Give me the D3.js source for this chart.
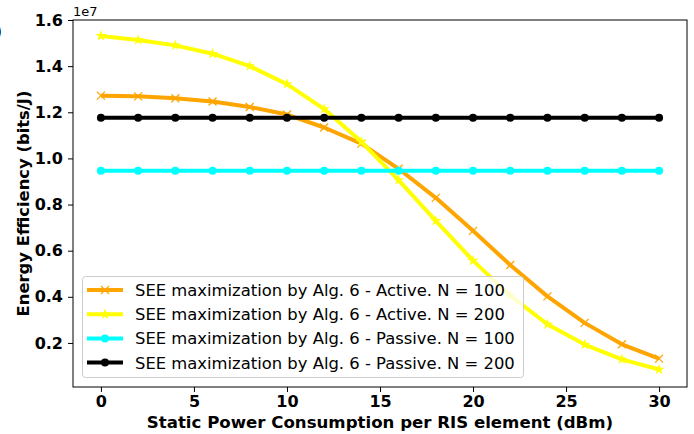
<!DOCTYPE html>
<html>
<head>
<meta charset="utf-8">
<script src="https://cdn.jsdelivr.net/npm/d3@7"></script>
<style>
  body { margin: 0; background: #fff; }
  svg { display: block; font-family: "DejaVu Sans", sans-serif; }
</style>
</head>
<body>
<div id="chart"></div>
<script>
// static power per RIS element (dBm)
var powerDbm = [0, 2, 4, 6, 8, 10, 12, 14, 16, 18, 20, 22, 24, 26, 28, 30];

// energy efficiency, in units of 1e7 bits/J
var activeN100 = [1.272, 1.269, 1.261, 1.247, 1.223, 1.190, 1.134, 1.064, 0.955, 0.829, 0.686, 0.538, 0.402, 0.287, 0.194, 0.132];
var activeN200 = [1.531, 1.513, 1.490, 1.454, 1.400, 1.322, 1.214, 1.072, 0.906, 0.729, 0.557, 0.405, 0.281, 0.193, 0.129, 0.085];
var passiveN100 = [0.947, 0.947, 0.947, 0.947, 0.947, 0.947, 0.947, 0.947, 0.947, 0.947, 0.947, 0.947, 0.947, 0.947, 0.947, 0.947];
var passiveN200 = [1.176, 1.176, 1.176, 1.176, 1.176, 1.176, 1.176, 1.176, 1.176, 1.176, 1.176, 1.176, 1.176, 1.176, 1.176, 1.176];

var seriesNames = [
  "SEE maximization by Alg. 6 - Active. N = 100",
  "SEE maximization by Alg. 6 - Active. N = 200",
  "SEE maximization by Alg. 6 - Passive. N = 100",
  "SEE maximization by Alg. 6 - Passive. N = 200"
];
var seriesColors = ["#ffa500", "#ffff00", "#00ffff", "#000000"];
var seriesMarkers = ["x", "star", "circle", "circle"];

var xTicks = [0, 5, 10, 15, 20, 25, 30];
var yTicks = [0.2, 0.4, 0.6, 0.8, 1.0, 1.2, 1.4, 1.6];

var width = 694, height = 434;
var margin = {left: 73, right: 7, top: 20, bottom: 47};

var svg = d3.select("#chart").append("svg")
  .attr("width", width)
  .attr("height", height);

var x = d3.scaleLinear().domain([-1.5, 31.5]).range([margin.left, width - margin.right]);
var y = d3.scaleLinear().domain([0.009, 1.6]).range([height - margin.bottom, margin.top]);

// axes
var xAxis = svg.append("g")
  .attr("transform", "translate(0," + (height - margin.bottom) + ")")
  .call(d3.axisBottom(x).tickValues(xTicks).tickFormat(d3.format("d")).tickSizeOuter(0).tickSize(5).tickPadding(4));
var yAxis = svg.append("g")
  .attr("transform", "translate(" + margin.left + ",0)")
  .call(d3.axisLeft(y).tickValues(yTicks).tickFormat(d3.format(".1f")).tickSizeOuter(0).tickSize(5).tickPadding(5));

[xAxis, yAxis].forEach(function (a) {
  a.select(".domain").remove();
  a.selectAll("line").attr("stroke", "#000").attr("stroke-width", 1);
  a.selectAll("text")
    .attr("fill", "#000")
    .style("font-family", "DejaVu Sans")
    .style("font-size", "16px")
    .style("font-weight", "bold");
});

// frame
svg.append("rect")
  .attr("x", margin.left)
  .attr("y", margin.top)
  .attr("width", width - margin.left - margin.right)
  .attr("height", height - margin.top - margin.bottom)
  .attr("fill", "none")
  .attr("stroke", "#000")
  .attr("stroke-width", 1);

var allSeries = [activeN100, activeN200, passiveN100, passiveN200];

var line = d3.line()
  .x(function (d, i) { return x(powerDbm[i]); })
  .y(function (d) { return y(d); });

var star = d3.symbol().type(d3.symbolStar).size(38);

function drawMarker(g, kind, color, cx, cy) {
  if (kind === "x") {
    var s = 4;
    g.append("path")
      .attr("d", "M" + (cx - s) + "," + (cy - s) + "L" + (cx + s) + "," + (cy + s) +
        "M" + (cx - s) + "," + (cy + s) + "L" + (cx + s) + "," + (cy - s))
      .attr("stroke", color)
      .attr("stroke-width", 1.3);
  } else if (kind === "star") {
    g.append("path")
      .attr("d", star())
      .attr("transform", "translate(" + cx + "," + cy + ")")
      .attr("fill", color);
  } else {
    g.append("circle")
      .attr("cx", cx)
      .attr("cy", cy)
      .attr("r", 4)
      .attr("fill", color);
  }
}

var plot = svg.append("g");
allSeries.forEach(function (vals, k) {
  var g = plot.append("g");
  g.append("path")
    .datum(vals)
    .attr("d", line)
    .attr("fill", "none")
    .attr("stroke", seriesColors[k])
    .attr("stroke-width", 4)
    .attr("stroke-linejoin", "round");
  vals.forEach(function (v, i) {
    drawMarker(g, seriesMarkers[k], seriesColors[k], x(powerDbm[i]), y(v));
  });
});

// legend
var legend = svg.append("g");
legend.append("rect")
  .attr("x", 82.5)
  .attr("y", 276.5)
  .attr("width", 441)
  .attr("height", 101)
  .attr("rx", 3)
  .attr("fill", "#fff")
  .attr("fill-opacity", 0.8)
  .attr("stroke", "#ccc")
  .attr("stroke-width", 1);

seriesNames.forEach(function (name, k) {
  var ly = 290 + k * 24.2;
  var row = legend.append("g");
  row.append("line")
    .attr("x1", 87).attr("x2", 123)
    .attr("y1", ly).attr("y2", ly)
    .attr("stroke", seriesColors[k])
    .attr("stroke-width", 4);
  drawMarker(row, seriesMarkers[k], seriesColors[k], 105, ly);
  row.append("text")
    .attr("x", 135)
    .attr("y", ly + 6)
    .style("font-size", "16.4px")
    .attr("fill", "#000")
    .text(name);
});

// offset text and axis labels
svg.append("text")
  .attr("x", 73)
  .attr("y", 16)
  .style("font-size", "13px")
  .text("1e7");

svg.append("text")
  .attr("x", (margin.left + width - margin.right) / 2)
  .attr("y", 428)
  .attr("text-anchor", "middle")
  .style("font-size", "16.6px")
  .style("font-weight", "bold")
  .text("Static Power Consumption per RIS element (dBm)");

svg.append("text")
  .attr("transform", "translate(29," + ((margin.top + height - margin.bottom) / 2) + ") rotate(-90)")
  .attr("text-anchor", "middle")
  .style("font-size", "16.4px")
  .style("font-weight", "bold")
  .text("Energy Efficiency (bits/J)");

// clipped panel letter at the left edge
svg.append("text")
  .attr("x", -6)
  .attr("y", 38)
  .style("font-size", "18px")
  .style("font-weight", "bold")
  .text(")");
</script>
</body>
</html>
